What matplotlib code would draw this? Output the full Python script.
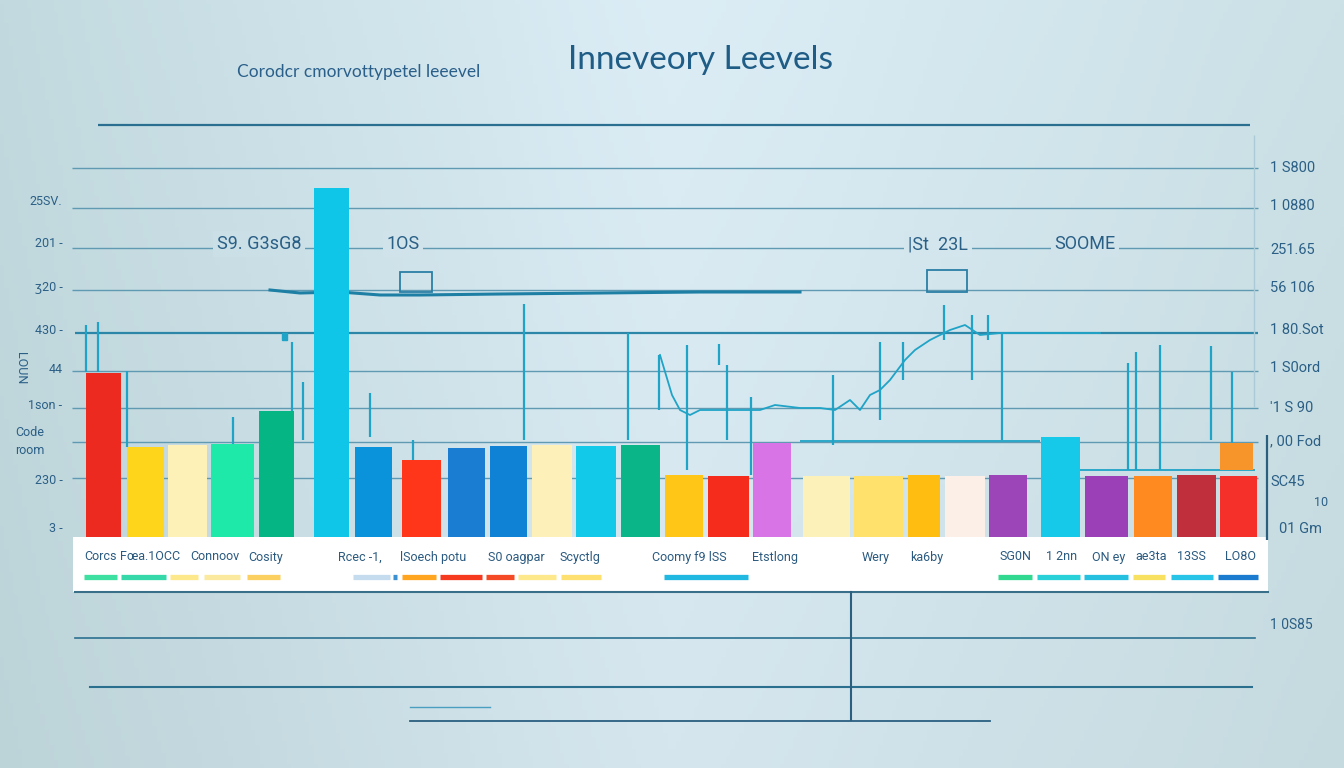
import numpy as np
import matplotlib.pyplot as plt
from matplotlib.patches import Rectangle

plt.rcParams['font.family'] = ['Lato', 'DejaVu Sans']
label_font = ['Roboto', 'DejaVu Sans']

# ---- data ----
bar_levels = [164, 90, 92, 93, 126, 349, 90, 77, 89, 91, 92, 91, 92,
              62, 61, 94, 61, 61, 62, 61, 62, 100, 61, 61, 62, 61]
top_block = (67, 27)   # extra orange block on the last bar (bottom, height)

# trace of stock movement (spikes)
spike_x = [86, 98, 127, 292, 303, 233, 370, 413, 524, 628, 659, 687, 719, 727,
           751, 833, 880, 903, 944, 972, 988, 1002, 1128, 1136, 1160, 1211, 1232]
spike_top = [212, 215, 166, 195, 155, 120, 144, 97, 233, 204, 182, 192, 193, 172,
             140, 162, 195, 195, 232, 222, 222, 204, 174, 185, 192, 191, 165]
spike_base = [165, 165, 90, 126, 97, 93, 100, 77, 97, 97, 127, 67, 172, 97,
              62, 92, 117, 157, 197, 157, 197, 97, 67, 67, 67, 97, 94]

trace_x = [660, 672, 680, 690, 700, 760, 775, 800, 820, 835, 850, 860, 870, 880,
           890, 905, 915, 930, 940, 950, 965, 980, 1000, 1100]
trace_y = [182, 142, 127, 122, 127, 127, 132, 129, 129, 127, 137, 127, 142, 147,
           157, 177, 187, 197, 202, 207, 212, 202, 204, 204]

wave_x = [270, 300, 340, 380, 420, 500, 600, 700, 800]
wave_y = [247, 244, 245, 242, 242, 243, 244, 245, 245]

left_ticks = [337, 295, 251, 208, 169, 133, 58, 10]
left_labels = ['25SV.', '201 -', 'ʒ20 -', '430 -', '44', '1son -', '230 -', '3 -']
right_ticks = [370, 332, 289, 250, 208, 171, 130, 97, 56]
right_labels = ['1 S800', '1 0880', '251.65', '56 106', '1 80.Sot', '1 S0ord',
                "'1 S 90", ', 00 Fod', 'SC45']

legend_labels = ['Corcs', 'Fœa.1OCC', 'Connoov', 'Cosity', 'Rcec -1,', 'lSoech potu',
                 'S0 oagpar', 'Scyctlg', 'Coomy f9 lSS', 'Etstlong', 'Wery', 'ka6by',
                 'SG0N', '1 2nn', 'ON ey', 'ae3ta', '13SS', 'LO8O']

# ---- layout / styles ----
bar_x = [103.5, 145.5, 187.5, 232.5, 276.5, 331.5, 373.5, 421.5, 466.5, 508.5,
         552, 596, 640.5, 684, 728.5, 772, 826.5, 878.5, 924, 965, 1008, 1060.5,
         1106.5, 1153, 1196.5, 1238.5]
bar_w = [35, 37, 39, 43, 35, 35, 37, 39, 37, 37, 40, 40, 39, 38, 41, 38, 47, 49,
         32, 40, 38, 39, 43, 38, 39, 37]
bar_colors = ['#ec2a20', '#ffd51c', '#fdf1b8', '#1ee9a8', '#05b584', '#10c6e8',
              '#0a92da', '#ff3619', '#1a7dd2', '#0f82d6', '#fdf0b8', '#12c9e9',
              '#0ab687', '#ffc617', '#f52c1c', '#d874e6', '#fdf1ba', '#ffe16c',
              '#ffbd12', '#fcefe8', '#9c45b8', '#16c9e9', '#9b40b6', '#ff8b20',
              '#c0303c', '#f5302a']
legend_x = [84, 120, 190, 248, 338, 400, 488, 560, 652, 752, 862, 910,
            1000, 1046, 1092, 1135, 1177, 1225]
swatches = [(84, 117, '#3de0a0'), (121, 166, '#35d8a8'), (170, 198, '#fde98c'),
            (204, 240, '#fbe9a0'), (247, 280, '#fcd060'), (353, 390, '#c5dcee'),
            (393, 397, '#3a90d0'), (402, 436, '#ffa520'), (440, 482, '#f53a20'),
            (486, 514, '#f44a25'), (518, 556, '#fde88c'), (561, 601, '#fde070'),
            (664, 748, '#20b8e0'), (998, 1032, '#30d890'), (1037, 1080, '#28d0d8'),
            (1084, 1128, '#25c0e0'), (1133, 1165, '#f8e060'), (1171, 1213, '#28c4e8'),
            (1218, 1258, '#1a7bcf')]
W, H = 1344, 768
txt = '#2b5f86'
teal = '#1fa3c6'

# background gradient
stops = [0, 0.5, 1]
red_s, grn_s, blu_s = [0xc2, 0xdc, 0xcb], [0xda, 0xed, 0xe1], [0xdf, 0xf6, 0xe6]


def bg_color(px, py):
    f = px / W
    sh = 1 - 0.03 * (py / H)
    return tuple(np.interp(f, stops, ch) / 255 * sh for ch in (red_s, grn_s, blu_s))


fig = plt.figure(figsize=(13.44, 7.68), dpi=100)

bg = fig.add_axes([0, 0, 1, 1], zorder=0)
xs = np.linspace(0, 1, 300)
ys = np.linspace(0, 1, 200)
shade = 1 - 0.03 * ys[:, None]
img = np.dstack([np.interp(xs, stops, ch)[None, :] / 255 * shade
                 for ch in (red_s, grn_s, blu_s)])
bg.imshow(np.clip(img, 0, 1), aspect='auto', extent=[0, 1, 0, 1], origin='upper')
bg.axis('off')

# main chart axes (x in layout units, y in stock level units)
x0, x1, base, top = 68, 1262, 537, 120
ax = fig.add_axes([x0 / W, (H - base) / H, (x1 - x0) / W, (base - top) / H], zorder=1)
ax.patch.set_alpha(0)
ax.set_xlim(x0, x1)
ax.set_ylim(0, base - top)
for s in ax.spines.values():
    s.set_visible(False)
ax.set_xticks([])

grid_rows = [369, 329, 289, 247, 166, 129, 95, 59]
for gy in grid_rows:
    ax.hlines(gy, 72, 1258, color='#5f9ab2', lw=1.0, zorder=1)
ax.hlines(412, 98, 1250, color='#2a6f8f', lw=1.6, zorder=1)
ax.hlines(204, 75, 1258, color='#2b86a8', lw=1.6, zorder=1)
ax.hlines(96, 800, 1040, color=teal, lw=1.3, zorder=1)
ax.hlines(67, 1080, 1255, color=teal, lw=1.3, zorder=1)
ax.vlines(1254, 130, 402, color='#a9cad6', lw=1.0, zorder=1)

ax.plot(wave_x, wave_y, color='#1e7fa5', lw=2.2, zorder=2)
ax.plot(trace_x, trace_y, color=teal, lw=1.3, zorder=2)
ax.vlines(spike_x, spike_base, spike_top, color=teal, lw=1.6, zorder=2)
ax.add_patch(Rectangle((400, 245), 32, 20, fill=False, ec='#2a7fa5', lw=1.3, zorder=2))
ax.add_patch(Rectangle((927, 245), 40, 22, fill=False, ec='#2a7fa5', lw=1.3, zorder=2))
ax.add_patch(Rectangle((282, 197), 5, 7, color=teal, zorder=2))

ax.bar(bar_x, bar_levels, width=bar_w, color=bar_colors, zorder=3)
ax.bar(bar_x[-1] - 2, top_block[1], bottom=top_block[0], width=33,
       color='#f7952a', zorder=3)

for lx, lab in [(259, 'S9. G3sG8'), (403, '1OS'), (938, '|St  23L'), (1085, 'SOOME')]:
    bb = dict(boxstyle='square,pad=0.2', fc=bg_color(lx, 244), ec='none')
    ax.text(lx, 293, lab, ha='center', va='center', fontsize=13, color='#2a5f86',
            family=label_font, bbox=bb, zorder=2)

ax.set_yticks(left_ticks)
ax.set_yticklabels(left_labels, fontsize=9, color=txt, family=label_font)
ax.tick_params(axis='y', length=0, pad=4)
ax.text(30, 105, 'Code', fontsize=9, color=txt, ha='center', va='center', family=label_font)
ax.text(30, 87, 'room', fontsize=9, color=txt, ha='center', va='center', family=label_font)
ax.text(20, 169, 'LOUN', fontsize=9, color=txt, ha='center', va='center',
        rotation=-90, family=label_font)

axr = ax.secondary_yaxis('right')
axr.set_yticks(right_ticks)
axr.set_yticklabels(right_labels, fontsize=10.5, color=txt, family=label_font)
axr.tick_params(length=0, pad=6)
axr.spines['right'].set_visible(False)
ax.text(1328, 34, '10', fontsize=9, color=txt, ha='right', va='center', family=label_font)
ax.text(1279, 8, '01 Gm', fontsize=10.5, color=txt, ha='left', va='center', family=label_font)

# decoration layer in pixel layout
deco = fig.add_axes([0, 0, 1, 1], zorder=4)
deco.patch.set_alpha(0)
deco.set_xlim(0, W)
deco.set_ylim(H, 0)
deco.axis('off')
deco.add_patch(Rectangle((73, 537), 1195, 55, fc='white', ec='none'))
deco.plot([75, 1268], [592, 592], color='#3a6f8a', lw=1.5)
deco.vlines(1267, 435, 540, color='#2a5f80', lw=1.6)
for lx, lab in zip(legend_x, legend_labels):
    deco.text(lx, 557, lab, fontsize=9, color='#2a5a80', va='center',
              family=label_font)
for sx0, sx1, c in swatches:
    deco.plot([sx0, sx1], [577, 577], color=c, lw=3.8, solid_capstyle='butt')

deco.plot([75, 1255], [638, 638], color='#2a7090', lw=1.2)
deco.plot([90, 1252], [687, 687], color='#2b6f8f', lw=1.5)
deco.plot([851, 851], [592, 720], color='#2a5f80', lw=1.5)
deco.plot([410, 990], [721, 721], color='#2a5f80', lw=1.3)
deco.plot([410, 490], [707, 707], color='#4a9ec0', lw=1.0)
deco.text(1270, 625, '1 0S85', fontsize=10, color=txt, va='center', family=label_font)

deco.text(700, 60, 'Inneveory Leevels', fontsize=24, color='#1f5d86',
          ha='center', va='center')
deco.text(359, 72, 'Corodcr cmorvottypetel leeevel', fontsize=12.5, color='#2a5f8a',
          ha='center', va='center')

fig.savefig('out.png', dpi=100)
